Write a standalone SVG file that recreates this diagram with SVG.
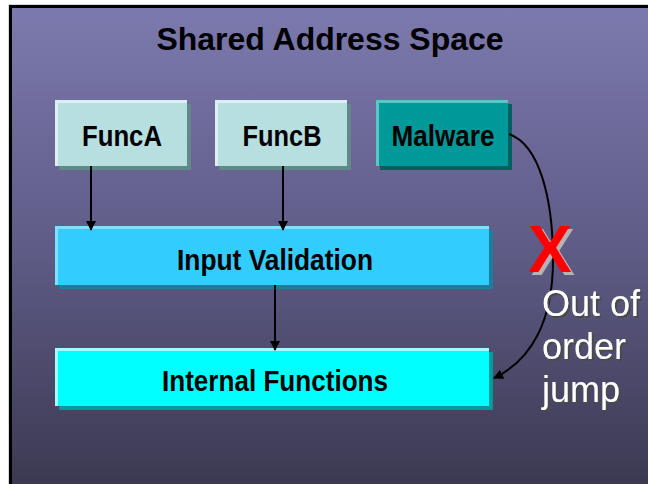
<svg xmlns="http://www.w3.org/2000/svg" width="648" height="484" viewBox="0 0 648 484">
  <defs>
    <linearGradient id="panelGrad" x1="0" y1="0" x2="0" y2="1">
      <stop offset="0" stop-color="#7c79ae"/>
      <stop offset="0.5" stop-color="#5e5b86"/>
      <stop offset="1" stop-color="#3a384f"/>
    </linearGradient>
    <marker id="arrow" viewBox="0 0 10 10" refX="9" refY="5" markerWidth="10" markerHeight="10" markerUnits="userSpaceOnUse" orient="auto">
      <path d="M0,0 L10,5 L0,10 z" fill="#000"/>
    </marker>
    <!-- hard offset shadows for the caption and the red mark -->
    <filter id="darkShadow" x="-10%" y="-10%" width="130%" height="140%">
      <feFlood flood-color="#4a4a4a"/>
      <feComposite in2="SourceAlpha" operator="in"/>
      <feOffset dx="2" dy="2" result="sh"/>
      <feMerge><feMergeNode in="sh"/><feMergeNode in="SourceGraphic"/></feMerge>
    </filter>
    <filter id="greyShadow" x="-10%" y="-10%" width="130%" height="130%">
      <feFlood flood-color="#b4b4b4"/>
      <feComposite in2="SourceAlpha" operator="in"/>
      <feOffset dx="3" dy="3" result="sh"/>
      <feMerge><feMergeNode in="sh"/><feMergeNode in="SourceGraphic"/></feMerge>
    </filter>
    <style>
      .lbl { font-family: "Liberation Sans", Arial, sans-serif; font-weight: bold; font-size: 30px; fill: #000; text-anchor: middle; }
      .title { font-family: "Liberation Sans", Arial, sans-serif; font-weight: bold; font-size: 32px; fill: #000; text-anchor: middle; }
      .note { font-family: "Liberation Sans", Arial, sans-serif; font-size: 36px; fill: #fff; }
      .conn { stroke: #000; stroke-width: 2; fill: none; marker-end: url(#arrow); }
    </style>
  </defs>

  <!-- page and framed panel -->
  <rect x="0" y="0" width="648" height="484" fill="#ffffff"/>
  <rect x="8" y="4" width="650" height="490" fill="#d8d8d8"/>
  <rect x="9" y="5" width="650" height="490" fill="#000"/>
  <rect x="12" y="8" width="646" height="486" fill="url(#panelGrad)"/>

  <text class="title" x="330" y="50" textLength="347" lengthAdjust="spacingAndGlyphs">Shared Address Space</text>

  <!-- nodes: shadow, highlight edge, face -->
  <g id="funcA">
    <rect x="59" y="104" width="132" height="66" fill="#5f8a88"/>
    <rect x="55" y="100" width="132" height="66" fill="#dcf0f1"/>
    <rect x="58" y="103" width="129" height="63" fill="#b8dfe0"/>
    <text class="lbl" x="122" y="146" textLength="80" lengthAdjust="spacingAndGlyphs">FuncA</text>
  </g>
  <g id="funcB">
    <rect x="219" y="104" width="132" height="66" fill="#5f8a88"/>
    <rect x="215" y="100" width="132" height="66" fill="#dcf0f1"/>
    <rect x="218" y="103" width="129" height="63" fill="#b8dfe0"/>
    <text class="lbl" x="282" y="146" textLength="79" lengthAdjust="spacingAndGlyphs">FuncB</text>
  </g>
  <g id="malware">
    <rect x="380" y="104" width="132" height="66" fill="#005f5f"/>
    <rect x="376" y="100" width="132" height="66" fill="#5ec4c4"/>
    <rect x="379" y="103" width="129" height="63" fill="#009999"/>
    <text class="lbl" x="443" y="146" textLength="103" lengthAdjust="spacingAndGlyphs">Malware</text>
  </g>
  <g id="inputValidation">
    <rect x="59" y="230" width="434" height="59" fill="#1f7d9c"/>
    <rect x="55" y="226" width="434" height="59" fill="#80e0ff"/>
    <rect x="58" y="229" width="431" height="56" fill="#33ccff"/>
    <text class="lbl" x="275" y="270" textLength="196" lengthAdjust="spacingAndGlyphs">Input Validation</text>
  </g>
  <g id="internalFunctions">
    <rect x="59" y="352" width="434" height="58" fill="#009a9a"/>
    <rect x="55" y="348" width="434" height="58" fill="#a0ffff"/>
    <rect x="58" y="351" width="431" height="55" fill="#00ffff"/>
    <text class="lbl" x="275" y="391" textLength="226" lengthAdjust="spacingAndGlyphs">Internal Functions</text>
  </g>

  <!-- connectors -->
  <g id="connectors">
    <path class="conn" d="M91,166 L91,230"/>
    <path class="conn" d="M283,166 L283,230"/>
    <path class="conn" d="M275,285 L275,350"/>
    <path class="conn" d="M509,134 C540,145 553,200 553,260 C553,320 532,360 494,378"/>
  </g>

  <!-- blocked-jump mark and caption -->
  <g id="blockedMark">
    <text x="528" y="272" font-family="Liberation Sans, Arial, sans-serif" font-weight="bold" font-size="66" fill="#ff0000" filter="url(#greyShadow)">X</text>
  </g>
  <g id="caption" filter="url(#darkShadow)">
    <text class="note" x="542" y="316">Out of</text>
    <text class="note" x="542" y="359">order</text>
    <text class="note" x="542" y="402">jump</text>
  </g>
</svg>
